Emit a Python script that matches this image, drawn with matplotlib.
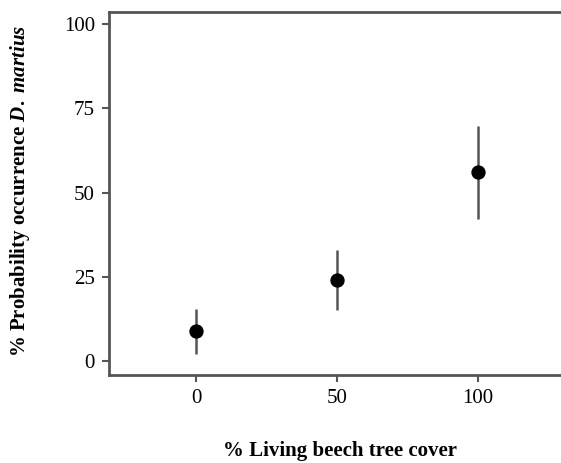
import matplotlib
matplotlib.use("Agg")
import matplotlib.pyplot as plt

cover = [0, 50, 100]
prob = [8.9, 24.0, 56.0]
lower = [2.1, 15.1, 42.1]
upper = [15.4, 32.9, 69.7]
xticks = [0, 50, 100]
yticks = [0, 25, 50, 75, 100]

plt.rcParams['font.family'] = ['Liberation Serif', 'DejaVu Serif']
plt.rcParams['mathtext.fontset'] = 'custom'
plt.rcParams['mathtext.rm'] = 'Liberation Serif:bold'
plt.rcParams['mathtext.it'] = 'Liberation Serif:italic:bold'
plt.rcParams['mathtext.bf'] = 'Liberation Serif:bold'

fig = plt.figure(figsize=(5.61, 4.63), dpi=100)
ax = fig.add_axes([0.194, 0.19, 0.806, 0.784])

gray = '#555555'
yerr = [[p - l for p, l in zip(prob, lower)], [u - p for p, u in zip(prob, upper)]]
ax.errorbar(cover, prob, yerr=yerr, fmt='none', ecolor=gray, elinewidth=1.8, capsize=0, zorder=2)
ax.plot(cover, prob, 'o', color='black', markersize=9.3, zorder=3)

ax.set_xlim(-31, 129.4)
ax.set_ylim(-4.2, 103.6)
ax.set_xticks(xticks)
ax.set_yticks(yticks)
ax.tick_params(axis='both', colors=gray, length=5, width=1.5, labelsize=15, labelcolor='black', pad=5)

for s in ['left', 'bottom', 'top']:
    ax.spines[s].set_color(gray)
    ax.spines[s].set_linewidth(2)
ax.spines['right'].set_visible(False)

fig.text(0.606, 0.004, '% Living beech tree cover', ha='center', va='bottom', fontsize=15, fontweight='bold')
fig.text(0.036, 0.587, r'% Probability occurrence $\mathit{D.}$ $\mathit{martius}$', ha='center', va='center',
         rotation=90, fontsize=15, fontweight='bold')

fig.savefig('out.png', dpi=100)
